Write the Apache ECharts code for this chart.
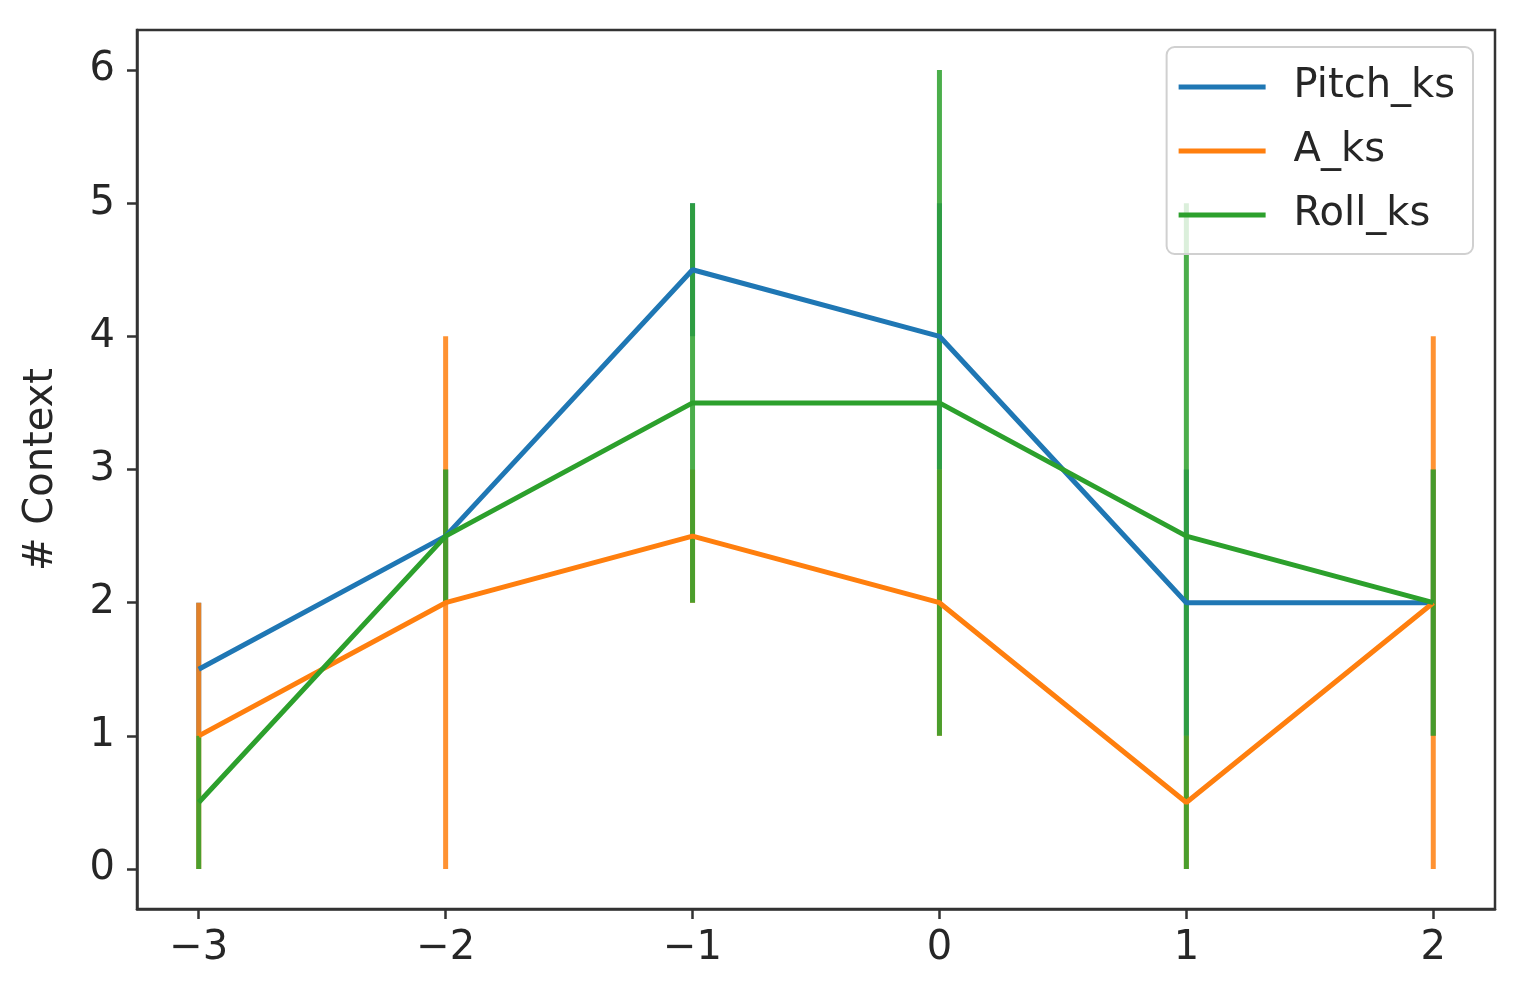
<!DOCTYPE html>
<html>
<head>
<meta charset="utf-8">
<script src="https://cdn.jsdelivr.net/npm/echarts@6/dist/echarts.min.js"></script>
<style>
html,body{margin:0;padding:0;background:#fff;}
#chart{width:1519px;height:990px;}
</style>
</head>
<body>
<div id="chart"></div>
<script>
const xValues = [-3, -2, -1, 0, 1, 2];
const xTicks = [-3, -2, -1, 0, 1, 2];
const yTicks = [0, 1, 2, 3, 4, 5, 6];

const pitchKs = [1.5, 2.5, 4.5, 4, 2, 2];
const pitchErr = [0.5, 0.5, 0.5, 1, 1, 1];
const aKs = [1, 2, 2.5, 2, 0.5, 2];
const aErr = [1, 2, 0.5, 1, 0.5, 2];
const rollKs = [0.5, 2.5, 3.5, 3.5, 2.5, 2];
const rollErr = [0.5, 0.5, 1.5, 2.5, 2.5, 1];

const seriesDefs = [
  {name: 'Pitch_ks', vals: pitchKs, err: pitchErr, color: '#1f77b4'},
  {name: 'A_ks', vals: aKs, err: aErr, color: '#ff7f0e'},
  {name: 'Roll_ks', vals: rollKs, err: rollErr, color: '#2ca02c'}
];

const FONT = 'DejaVu Sans';
const fmt = v => String(v).replace('-', '\u2212');

const series = [];
seriesDefs.forEach((s, i) => {
  series.push({
    name: s.name + '_err',
    type: 'custom',
    z: 1,
    silent: true,
    data: xValues.map((x, k) => [x, s.vals[k] - s.err[k], s.vals[k] + s.err[k]]),
    renderItem: (params, api) => {
      const p1 = api.coord([api.value(0), api.value(1)]);
      const p2 = api.coord([api.value(0), api.value(2)]);
      return {
        type: 'line',
        shape: {x1: p1[0], y1: p1[1], x2: p2[0], y2: p2[1]},
        style: {stroke: s.color, lineWidth: 5, opacity: 0.85, lineCap: 'butt'}
      };
    },
    encode: {x: 0, y: [1, 2]}
  });
  series.push({
    name: s.name,
    type: 'line',
    z: 3,
    data: xValues.map((x, k) => [x, s.vals[k]]),
    symbol: 'none',
    lineStyle: {color: s.color, width: 5},
    itemStyle: {color: s.color}
  });
});

const chart = echarts.init(document.getElementById('chart'));
chart.setOption({
  animation: false,
  backgroundColor: '#fff',
  grid: {
    left: 137, right: 24, top: 30, bottom: 81,
    outerBoundsMode: 'none',
    containLabel: false,
    show: true, borderColor: '#333', borderWidth: 2.5, backgroundColor: 'transparent'
  },
  legend: {
    data: seriesDefs.map(s => ({name: s.name, icon: 'rect'})),
    orient: 'vertical',
    right: 46, top: 47,
    itemWidth: 87, itemHeight: 5, itemGap: 24,
    backgroundColor: 'rgba(255,255,255,0.8)',
    borderColor: '#d0d0d0', borderWidth: 2, borderRadius: 8,
    padding: [20, 18, 19, 12],
    textStyle: {fontFamily: FONT, fontSize: 40, color: '#262626', padding: [0, 0, 0, 23]}
  },
  xAxis: {
    type: 'value',
    min: -3.25, max: 2.25,
    axisLine: {show: true, onZero: false, lineStyle: {color: '#333', width: 2.5}},
    axisTick: {show: true, length: 10, lineStyle: {color: '#333', width: 2.5}, customValues: xTicks},
    axisLabel: {fontFamily: FONT, fontSize: 40, color: '#262626', margin: 20, customValues: xTicks, formatter: fmt},
    splitLine: {show: false}
  },
  yAxis: {
    type: 'value',
    min: -0.3, max: 6.3,
    name: '# Context',
    nameLocation: 'middle',
    nameGap: 75,
    nameRotate: 90,
    nameTextStyle: {fontFamily: FONT, fontSize: 40, color: '#262626'},
    axisLine: {show: true, onZero: false, lineStyle: {color: '#333', width: 2.5}},
    axisTick: {show: true, length: 10, lineStyle: {color: '#333', width: 2.5}, customValues: yTicks},
    axisLabel: {fontFamily: FONT, fontSize: 40, color: '#262626', margin: 22, customValues: yTicks, formatter: fmt},
    splitLine: {show: false}
  },
  series: series
});
</script>
</body>
</html>
